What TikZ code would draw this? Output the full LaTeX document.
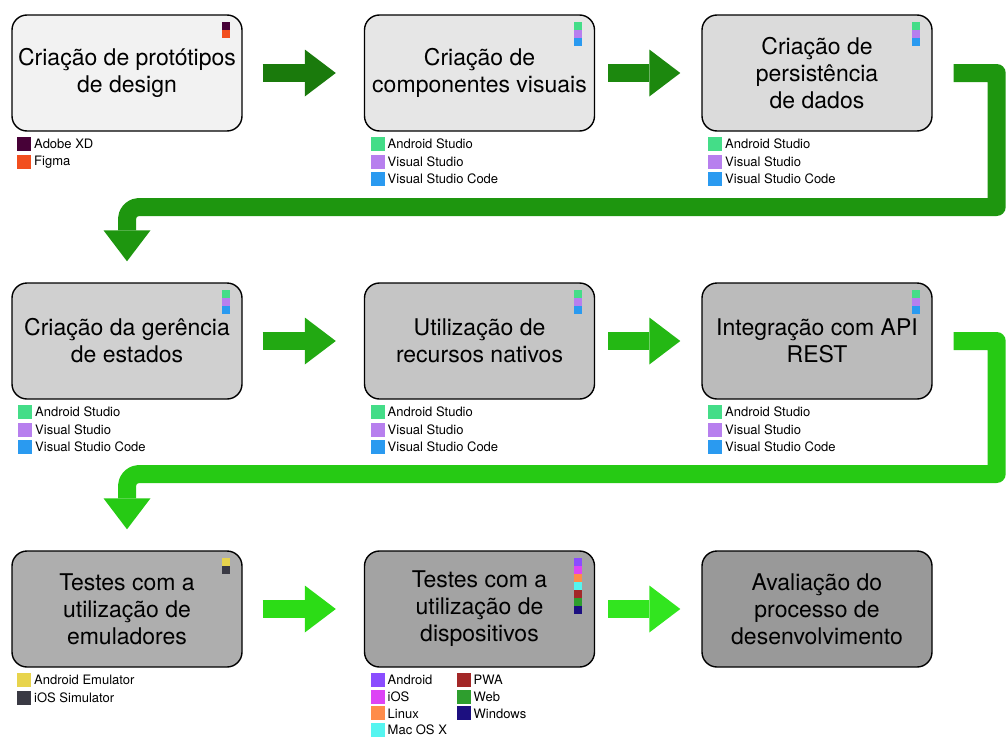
\documentclass[tikz,border=0pt]{standalone}
\usepackage{fontspec}
\setmainfont{TeX Gyre Heros}
\usetikzlibrary{arrows.meta}
\usetikzlibrary{calc}

% box fills, light to dark
\definecolor{g1}{HTML}{F2F2F2}
\definecolor{g2}{HTML}{E6E6E6}
\definecolor{g3}{HTML}{DBDBDB}
\definecolor{g4}{HTML}{D0D0D0}
\definecolor{g5}{HTML}{C5C5C5}
\definecolor{g6}{HTML}{BBBBBB}
\definecolor{g7}{HTML}{AEAEAE}
\definecolor{g8}{HTML}{A3A3A3}
\definecolor{g9}{HTML}{999999}
% arrow greens, dark to bright
\definecolor{a1}{HTML}{1A7A0C}
\definecolor{a2}{HTML}{1C880E}
\definecolor{e1}{HTML}{1E960F}
\definecolor{a3}{HTML}{22A912}
\definecolor{a4}{HTML}{24B814}
\definecolor{e2}{HTML}{26CA14}
\definecolor{a5}{HTML}{2CDC16}
\definecolor{a6}{HTML}{32E51F}
% tools
\definecolor{adobexd}{HTML}{470137}
\definecolor{figma}{HTML}{F24E1E}
\definecolor{astudio}{HTML}{44DD88}
\definecolor{vstudio}{HTML}{B77FEE}
\definecolor{vscode}{HTML}{2A9AF0}
\definecolor{aemu}{HTML}{E8D44D}
\definecolor{iossim}{HTML}{3A3A44}
\definecolor{android}{HTML}{8A4DFF}
\definecolor{ios}{HTML}{DD44F5}
\definecolor{linux}{HTML}{FF8C4A}
\definecolor{macos}{HTML}{55F5F0}
\definecolor{pwa}{HTML}{A32828}
\definecolor{web}{HTML}{2E9E2E}
\definecolor{windows}{HTML}{1C0F80}

% little colour column in the corner of a box
\newcommand{\colorstack}[2]{%
  \foreach \col [count=\i from 0] in {#2}
    \fill[\col] ($(#1.north east)+(-21,8+8*\i)$) rectangle ++(8,8);}
% key under a box: [row pitch] box, offset, entries
\newcommand{\toolkey}[4][17.5]{%
  \foreach \col/\txt [count=\i from 0] in {#4}{
    \node[swatch,fill=\col] (#2k#3\i) at ($(#2.south west)+(#3+7,12.5+#1*\i)$) {};
    \node[keytext] at (#2k#3\i.east) {\txt};}}

\begin{document}
\begin{tikzpicture}[x=1pt,y=-1pt,line join=round,
  box/.style={draw,line width=1.4pt,rounded corners=15pt,minimum width=230pt,
    minimum height=116pt,align=center,font=\fontsize{23}{27}\selectfont},
  flow/.style={line width=18pt,-{Triangle[width=47pt,length=31pt,line width=0pt]},
    shorten <=20pt,shorten >=28pt},
  flowb/.style={flow,shorten <=13pt,shorten >=21pt},
  turn/.style={flow,shorten <=21pt,shorten >=21pt},
  swatch/.style={minimum size=14pt,inner sep=0pt},
  keytext/.style={anchor=west,inner sep=2.5pt,font=\fontsize{13}{15}\selectfont}]
\useasboundingbox (0,0) rectangle (1006,736);

\node[box,fill=g1] (b1) at (127,73) {Criação de protótipos\\de design};
\node[box,fill=g2] (b2) at (479.5,73) {Criação de\\componentes visuais};
\node[box,fill=g3] (b3) at (817,73) {Criação de\\persistência\\de dados};
\node[box,fill=g4] (b4) at (127,341) {Criação da gerência\\de estados};
\node[box,fill=g5] (b5) at (479.5,341) {Utilização de\\recursos nativos};
\node[box,fill=g6] (b6) at (817,341) {Integração com API\\REST};
\node[box,fill=g7] (b7) at (127,609) {Testes com a\\utilização de\\emuladores};
\node[box,fill=g8] (b8) at (479.5,609) {Testes com a\\utilização de\\dispositivos};
\node[box,fill=g9] (b9) at (817,609) {Avaliação do\\processo de\\desenvolvimento};

\draw[flow,color=a1] (b1) -- (b2);
\draw[flowb,color=a2] (b2) -- (b3);
\draw[turn,color=e1] (b3.east) -- ++(64,0) -- ++(0,134) [rounded corners=12pt] -| (b4.north);
\draw[flow,color=a3] (b4) -- (b5);
\draw[flowb,color=a4] (b5) -- (b6);
\draw[turn,color=e2] (b6.east) -- ++(64,0) -- ++(0,133) [rounded corners=12pt] -| (b7.north);
\draw[flow,color=a5] (b7) -- (b8);
\draw[flowb,color=a6] (b8) -- (b9);

\colorstack{b1}{adobexd,figma}
\colorstack{b2}{astudio,vstudio,vscode}
\colorstack{b3}{astudio,vstudio,vscode}
\colorstack{b4}{astudio,vstudio,vscode}
\colorstack{b5}{astudio,vstudio,vscode}
\colorstack{b6}{astudio,vstudio,vscode}
\colorstack{b7}{aemu,iossim}
\colorstack{b8}{android,ios,linux,macos,pwa,web,windows}

\toolkey{b1}{6}{adobexd/Adobe XD,figma/Figma}
\toolkey{b2}{7}{astudio/Android Studio,vstudio/Visual Studio,vscode/Visual Studio Code}
\toolkey{b3}{7}{astudio/Android Studio,vstudio/Visual Studio,vscode/Visual Studio Code}
\toolkey{b4}{7}{astudio/Android Studio,vstudio/Visual Studio,vscode/Visual Studio Code}
\toolkey{b5}{7}{astudio/Android Studio,vstudio/Visual Studio,vscode/Visual Studio Code}
\toolkey{b6}{7}{astudio/Android Studio,vstudio/Visual Studio,vscode/Visual Studio Code}
\toolkey{b7}{6}{aemu/Android Emulator,iossim/iOS Simulator}
\toolkey[16.6]{b8}{7}{android/Android,ios/iOS,linux/Linux,macos/Mac OS X}
\toolkey[16.6]{b8}{93}{pwa/PWA,web/Web,windows/Windows}
\end{tikzpicture}
\end{document}
